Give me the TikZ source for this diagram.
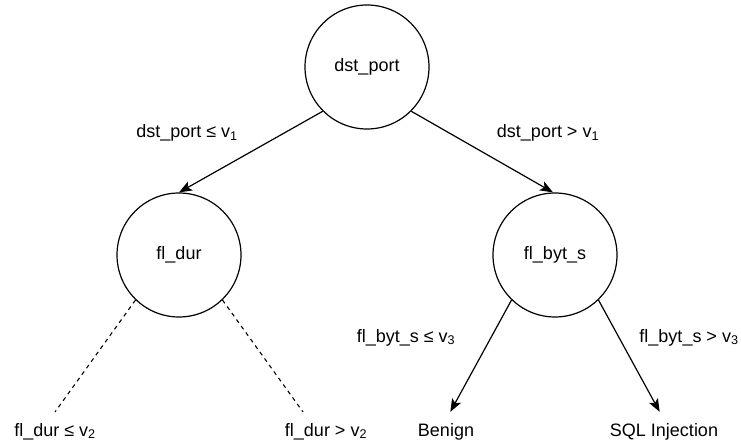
\documentclass[tikz,border=0pt]{standalone}
\usepackage{fontspec}
\setmainfont{Liberation Sans}
\usetikzlibrary{arrows.meta}

\tikzset{
  treenode/.style={draw, circle, line width=1.2pt, minimum size=124pt, inner sep=0pt, font=\fontsize{18}{20}\selectfont},
  leaf/.style={anchor=base, inner sep=3pt, font=\fontsize{18}{20}\selectfont},
  cond/.style={anchor=base, inner sep=0pt, font=\fontsize{18}{20}\selectfont},
  arr/.style={line width=1.2pt, -{Stealth[length=13pt, width=10pt, inset=3pt]}},
  dashline/.style={line width=1.1pt, dash pattern=on 4pt off 4pt},
}

\begin{document}
\begin{tikzpicture}[x=1pt, y=-1pt]
  \useasboundingbox (0,0) rectangle (741,443);

  % decision nodes
  \node[treenode] (root) at (367,67)  {dst\_port};
  \node[treenode] (dur)  at (179,255) {fl\_dur};
  \node[treenode] (byt)  at (555,255) {fl\_byt\_s};

  % leaves
  \node[leaf] (benign) at (446,436) {Benign};
  \node[leaf] (sqli)   at (664,436) {SQL Injection};
  \node[leaf] (durle)  at (55,436)  {fl\_dur ≤ v\textsubscript{2}};
  \node[leaf] (durgt)  at (326,436) {fl\_dur > v\textsubscript{2}};

  % ends of the unexpanded branches
  \coordinate (durleEnd) at (55,412);
  \coordinate (durgtEnd) at (303,412);

  % edge conditions
  \node[cond] (c1) at (187,138) {dst\_port ≤ v\textsubscript{1}};
  \node[cond] (c2) at (548,138) {dst\_port > v\textsubscript{1}};
  \node[cond] (c3) at (406,342) {fl\_byt\_s ≤ v\textsubscript{3}};
  \node[cond] (c4) at (689,342) {fl\_byt\_s > v\textsubscript{3}};

  % edges
  \draw[arr] (root.-135) -- (dur.north);
  \draw[arr] (root.-45)  -- ([xshift=-2pt]byt.north);
  \draw[arr, shorten >=9pt] (byt.-134) -- (benign.north);
  \draw[arr, shorten >=9pt] (byt.-46)  -- (sqli.north);
  \draw[dashline] (dur.-134) -- (durleEnd);
  \draw[dashline] (dur.-46)  -- (durgtEnd);
\end{tikzpicture}
\end{document}
